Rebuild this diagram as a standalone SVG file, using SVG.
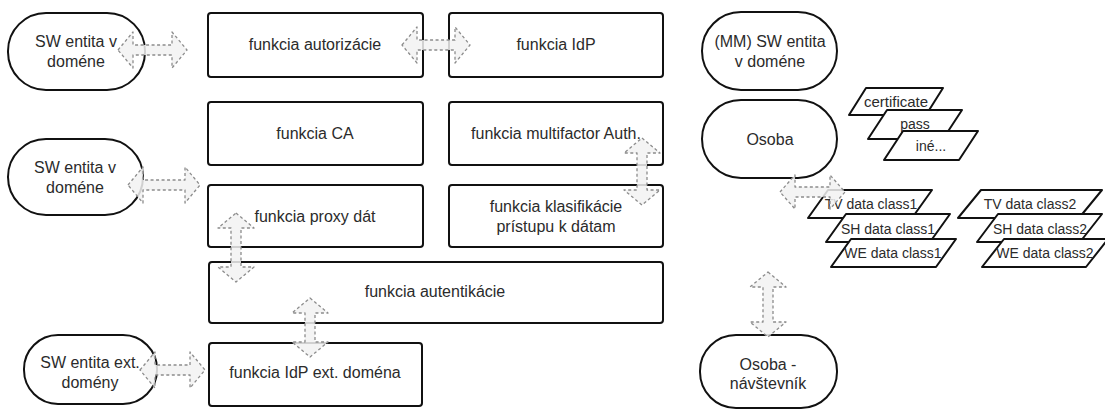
<svg xmlns="http://www.w3.org/2000/svg" width="1105" height="410" viewBox="0 0 1105 410">
  <style>
    .box { fill: #ffffff; stroke: #111111; stroke-width: 2; }
    .para { fill: #ffffff; stroke: #111111; stroke-width: 2; stroke-linejoin: round; }
    .lbl { font-family: "Liberation Sans", Arial, sans-serif; font-size: 16px; fill: #2b2b2b; text-anchor: middle; }
    .sm { font-size: 14px; }
    .arrow { fill: #f2f2f2; fill-opacity: 0.85; stroke: #8c8c8c; stroke-width: 1.3; stroke-dasharray: 3 2.5; stroke-linejoin: round; }
  </style>

  <!-- left-hand entities -->
  <g id="sw-entita-1">
    <rect class="box" x="8" y="13" width="137" height="77" rx="38" ry="38"/>
    <text class="lbl" x="76" y="47">SW entita v</text>
    <text class="lbl" x="76" y="67">doméne</text>
  </g>
  <g id="sw-entita-2">
    <rect class="box" x="8" y="139" width="135" height="76" rx="38" ry="38"/>
    <text class="lbl" x="75" y="173">SW entita v</text>
    <text class="lbl" x="75" y="193">doméne</text>
  </g>
  <g id="sw-entita-ext">
    <rect class="box" x="24" y="335" width="133" height="69" rx="34" ry="34"/>
    <text class="lbl" x="90" y="368">SW entita ext.</text>
    <text class="lbl" x="90" y="388">domény</text>
  </g>

  <!-- function blocks -->
  <g id="f-autorizacie">
    <rect class="box" x="208" y="13" width="215" height="64" rx="3"/>
    <text class="lbl" x="315" y="50">funkcia autorizácie</text>
  </g>
  <g id="f-idp">
    <rect class="box" x="449" y="13" width="214" height="64" rx="3"/>
    <text class="lbl" x="556" y="50">funkcia IdP</text>
  </g>
  <g id="f-ca">
    <rect class="box" x="208" y="102" width="215" height="63" rx="3"/>
    <text class="lbl" x="315" y="139">funkcia CA</text>
  </g>
  <g id="f-multifactor">
    <rect class="box" x="449" y="102" width="214" height="63" rx="3"/>
    <text class="lbl" x="556" y="139">funkcia multifactor Auth.</text>
  </g>
  <g id="f-proxy">
    <rect class="box" x="208" y="185" width="215" height="62" rx="3"/>
    <text class="lbl" x="315" y="222">funkcia proxy dát</text>
  </g>
  <g id="f-klasifikacie">
    <rect class="box" x="449" y="185" width="214" height="62" rx="3"/>
    <text class="lbl" x="556" y="212">funkcia klasifikácie</text>
    <text class="lbl" x="556" y="232">prístupu k dátam</text>
  </g>
  <g id="f-autentikacie">
    <rect class="box" x="209" y="262" width="454" height="61" rx="3"/>
    <text class="lbl" x="435" y="297">funkcia autentikácie</text>
  </g>
  <g id="f-idp-ext">
    <rect class="box" x="209" y="343" width="213" height="63" rx="3"/>
    <text class="lbl" x="315" y="378">funkcia IdP ext. doména</text>
  </g>

  <!-- right-hand actors -->
  <g id="mm-sw-entita">
    <rect class="box" x="702" y="12" width="135" height="78" rx="39" ry="39"/>
    <text class="lbl" x="770" y="47">(MM) SW entita</text>
    <text class="lbl" x="770" y="67">v doméne</text>
  </g>
  <g id="osoba">
    <rect class="box" x="702" y="100" width="135" height="78" rx="39" ry="39"/>
    <text class="lbl" x="770" y="145">Osoba</text>
  </g>
  <g id="osoba-navstevnik">
    <rect class="box" x="700" y="335" width="137" height="73" rx="36" ry="36"/>
    <text class="lbl" x="768" y="370">Osoba -</text>
    <text class="lbl" x="768" y="389">návštevník</text>
  </g>

  <!-- credentials -->
  <g id="cred-certificate">
    <polygon class="para" points="866,88 943,88 926,115 849,115"/>
    <text class="lbl" x="896" y="107" style="font-size:15px">certificate</text>
  </g>
  <g id="cred-pass">
    <polygon class="para" points="887,110 962,110 943,139 868,139"/>
    <text class="lbl sm" x="915" y="129">pass</text>
  </g>
  <g id="cred-ine">
    <polygon class="para" points="903,131 978,131 959,160 884,160"/>
    <text class="lbl sm" x="931" y="151">iné...</text>
  </g>

  <!-- data classes -->
  <g id="tv-class1">
    <polygon class="para" points="828,190 932,190 912,218 808,218"/>
    <text class="lbl sm" x="871" y="209">TV data class1</text>
  </g>
  <g id="sh-class1">
    <polygon class="para" points="846,214 950,214 930,242 826,242"/>
    <text class="lbl sm" x="888" y="234">SH data class1</text>
  </g>
  <g id="we-class1">
    <polygon class="para" points="851,239 956,239 936,267 831,267"/>
    <text class="lbl sm" x="893" y="258">WE data class1</text>
  </g>
  <g id="tv-class2">
    <polygon class="para" points="981,190 1102,190 1079,218 958,218"/>
    <text class="lbl sm" x="1030" y="209">TV data class2</text>
  </g>
  <g id="sh-class2">
    <polygon class="para" points="998,214 1102,214 1080,242 977,242"/>
    <text class="lbl sm" x="1040" y="234">SH data class2</text>
  </g>
  <g id="we-class2">
    <polygon class="para" points="1004,239 1108,239 1086,267 982,267"/>
    <text class="lbl sm" x="1045" y="258">WE data class2</text>
  </g>

  <!-- bidirectional block connectors -->
  <g id="connectors">
    <!-- horizontal: tip x1, tip x2, centre y; head 15 long, 18 half-width, shaft 5 half-width -->
    <path class="arrow" d="M118,50 L133,32 L133,45 L172,45 L172,32 L187,50 L172,68 L172,55 L133,55 L133,68 Z"/>
    <path class="arrow" d="M402,45 L417,27 L417,40 L455,40 L455,27 L470,45 L455,63 L455,50 L417,50 L417,63 Z"/>
    <path class="arrow" d="M128,185 L143,167 L143,180 L185,180 L185,167 L200,185 L185,203 L185,190 L143,190 L143,203 Z"/>
    <path class="arrow" d="M140,370 L155,352 L155,365 L190,365 L190,352 L205,370 L190,388 L190,375 L155,375 L155,388 Z"/>
    <path class="arrow" d="M780,192 L795,175 L795,187 L830,187 L830,175 L845,192 L830,209 L830,197 L795,197 L795,209 Z"/>
    <!-- vertical -->
    <path class="arrow" d="M642,138 L660,153 L647,153 L647,190 L660,190 L642,205 L624,190 L637,190 L637,153 L624,153 Z"/>
    <path class="arrow" d="M236,213 L254,228 L241,228 L241,267 L254,267 L236,282 L218,267 L231,267 L231,228 L218,228 Z"/>
    <path class="arrow" d="M310,298 L328,313 L315,313 L315,342 L328,342 L310,357 L292,342 L305,342 L305,313 L292,313 Z"/>
    <path class="arrow" d="M768,272 L786,287 L773,287 L773,322 L786,322 L768,337 L750,322 L763,322 L763,287 L750,287 Z"/>
  </g>
</svg>
